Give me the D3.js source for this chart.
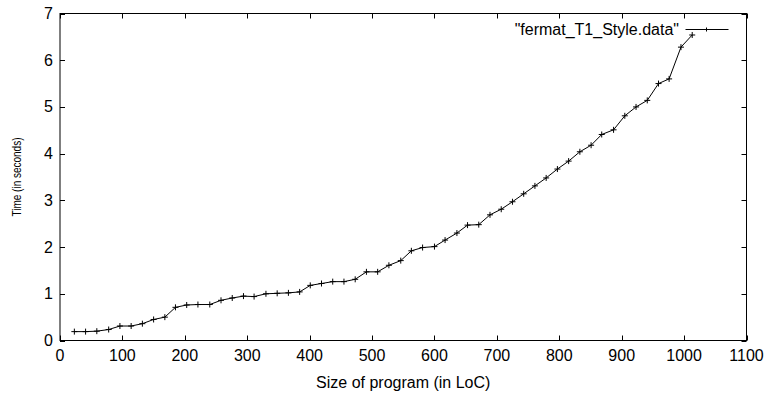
<!DOCTYPE html>
<html>
<head>
<meta charset="utf-8">
<script src="https://cdn.jsdelivr.net/npm/d3@7"></script>
<style>
  body { margin: 0; background: #fff; }
  text { font-family: "Liberation Sans", Arial, Helvetica, sans-serif; fill: #000; }
</style>
</head>
<body>
<div id="chart"></div>
<script>
    var width = 765
    var height = 399

    // data
    var sizes = [23, 41, 59, 78, 96, 114, 132, 150, 168, 185,
        203, 221, 240, 258, 276, 294, 311, 330, 348, 366,
        384, 401, 419, 437, 455, 473, 491, 509, 527, 546,
        563, 581, 600, 617, 636, 653, 671, 689, 707, 725,
        743, 761, 779, 797, 815, 833, 851, 868, 887, 905,
        923, 941, 959, 976, 995, 1013]
    var times = [0.19, 0.19, 0.20, 0.235, 0.31, 0.31, 0.36, 0.45, 0.50, 0.71,
        0.76, 0.77, 0.77, 0.86, 0.91, 0.95, 0.94, 1.00, 1.01, 1.02,
        1.04, 1.18, 1.22, 1.26, 1.26, 1.31, 1.47, 1.47, 1.61, 1.71,
        1.92, 1.99, 2.01, 2.15, 2.30, 2.47, 2.48, 2.69, 2.81, 2.97,
        3.14, 3.31, 3.48, 3.67, 3.84, 4.04, 4.18, 4.41, 4.51, 4.81,
        5.00, 5.14, 5.50, 5.60, 6.28, 6.54]
    var xTicks = [0, 100, 200, 300, 400, 500, 600, 700, 800, 900, 1000, 1100]
    var yTicks = [0, 1, 2, 3, 4, 5, 6, 7]
    var seriesName = '"fermat_T1_Style.data"'

    var points = sizes.map(function (s, i) { return [s, times[i]]; });

    // plot box (gnuplot style)
    var boxL = 60, boxR = 746.5, boxT = 13.5, boxB = 340.5
    var tickLen = 5

    var x = d3.scaleLinear().domain([0, 1100]).range([boxL, boxR])
    var y = d3.scaleLinear().domain([0, 7]).range([boxB, boxT])

    var svg = d3.select("#chart").append("svg")
        .attr("width", width)
        .attr("height", height)

    // ticks, inward on all four sides (mirror)
    var ticks = svg.append("g").attr("stroke", "#000").attr("stroke-width", 1)
    xTicks.forEach(function (t) {
        var px = Math.round(x(t)) + 0.5
        ticks.append("line").attr("x1", px).attr("x2", px).attr("y1", boxB).attr("y2", boxB - tickLen)
        ticks.append("line").attr("x1", px).attr("x2", px).attr("y1", boxT).attr("y2", boxT + tickLen)
    })
    yTicks.forEach(function (t) {
        var py = Math.round(y(t)) + 0.5
        ticks.append("line").attr("x1", boxL).attr("x2", boxL + tickLen).attr("y1", py).attr("y2", py)
        ticks.append("line").attr("x1", boxR).attr("x2", boxR - tickLen).attr("y1", py).attr("y2", py)
    })

    // frame
    svg.append("rect")
        .attr("x", boxL).attr("y", boxT)
        .attr("width", boxR - boxL).attr("height", boxB - boxT)
        .attr("fill", "none").attr("stroke", "#000").attr("stroke-width", 1)

    // tick labels
    svg.append("g").selectAll("text")
        .data(xTicks)
        .enter().append("text")
        .attr("x", function (d) { return x(d); })
        .attr("y", boxB + 20)
        .attr("text-anchor", "middle")
        .attr("font-size", "16px")
        .text(function (d) { return d; })

    svg.append("g").selectAll("text")
        .data(yTicks)
        .enter().append("text")
        .attr("x", boxL - 7)
        .attr("y", function (d) { return y(d) + 5.5; })
        .attr("text-anchor", "end")
        .attr("font-size", "16px")
        .text(function (d) { return d; })

    // axis titles
    svg.append("text")
        .attr("x", (boxL + boxR) / 2)
        .attr("y", 388)
        .attr("text-anchor", "middle")
        .attr("font-size", "16px")
        .text("Size of program (in LoC)")

    svg.append("text")
        .attr("transform", "translate(21,177) rotate(-90)")
        .attr("text-anchor", "middle")
        .attr("font-size", "12px")
        .attr("textLength", 79)
        .attr("lengthAdjust", "spacingAndGlyphs")
        .text("Time (in seconds)")

    // the line
    var line = d3.line()
        .x(function (d) { return x(d[0]); })
        .y(function (d) { return y(d[1]); })

    svg.append("path")
        .datum(points)
        .attr("d", line)
        .attr("fill", "none")
        .attr("stroke", "#000")
        .attr("stroke-width", 1)

    // + markers
    function plusPath(cx, cy, half) {
        return "M" + (cx - half) + "," + cy + "H" + (cx + half) + "M" + cx + "," + (cy - half) + "V" + (cy + half)
    }
    svg.append("g").selectAll("path")
        .data(points)
        .enter().append("path")
        .attr("d", function (d) { return plusPath(x(d[0]), y(d[1]), 3); })
        .attr("stroke", "#000")
        .attr("stroke-width", 1)

    // legend
    var ly = 29.5
    svg.append("text")
        .attr("x", 679)
        .attr("y", ly + 5.5)
        .attr("text-anchor", "end")
        .attr("font-size", "16px")
        .text(seriesName)
    svg.append("line")
        .attr("x1", 685.5).attr("x2", 728.5)
        .attr("y1", ly).attr("y2", ly)
        .attr("stroke", "#000")
    svg.append("path")
        .attr("d", plusPath(706.5, ly, 2))
        .attr("stroke", "#000")
</script>
</body>
</html>
